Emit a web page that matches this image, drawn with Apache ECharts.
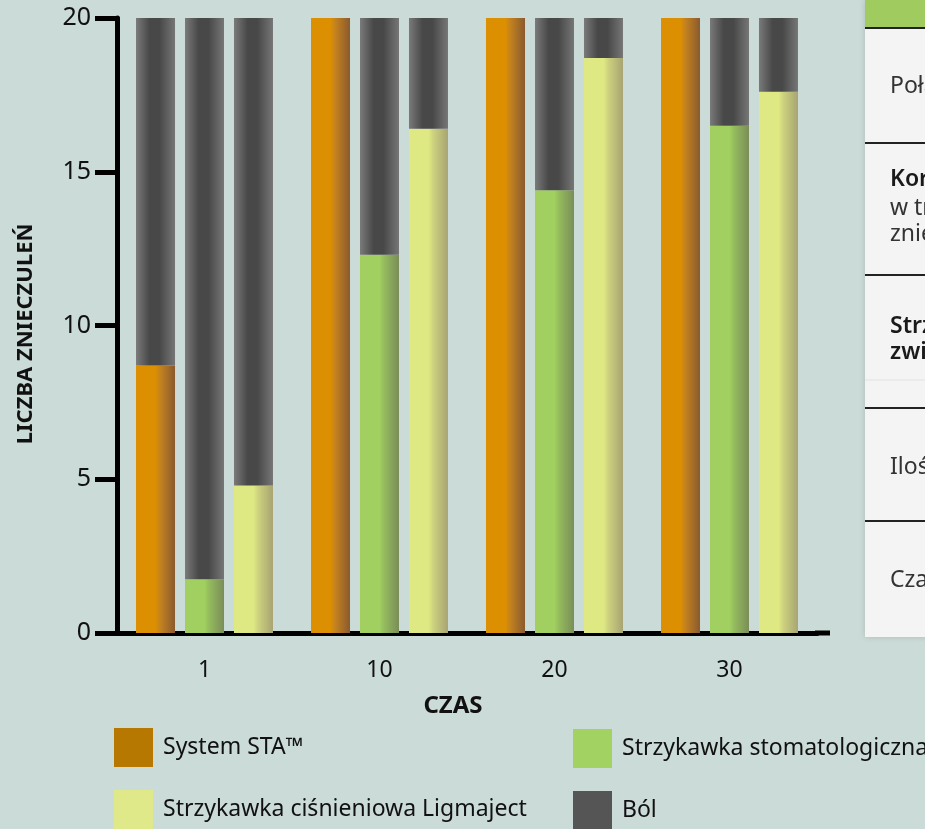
<!DOCTYPE html>
<html>
<head>
<meta charset="utf-8">
<script src="https://cdn.jsdelivr.net/npm/echarts@6/dist/echarts.min.js"></script>
<style>
    html, body { margin: 0; padding: 0; background: #cbdbd7; }
    #chart { width: 925px; height: 829px; }
</style>
</head>
<body>
<div id="chart"></div>
<script>
const czas = ['1', '10', '20', '30'];
const yTicks = [0, 5, 10, 15, 20];

const systemSTA = [8.7, 20, 20, 20];
const stomatologiczna = [1.75, 12.3, 14.4, 16.5];
const ligmaject = [4.8, 16.4, 18.7, 17.6];
const total = 20;

const bolSTA = systemSTA.map((v) => +(total - v).toFixed(2));
const bolStom = stomatologiczna.map((v) => +(total - v).toFixed(2));
const bolLig = ligmaject.map((v) => +(total - v).toFixed(2));

const font = '"Noto Sans", "Open Sans", sans-serif';

function grad(stops) {
    return new echarts.graphic.LinearGradient(0, 0, 1, 0,
        stops.map((s) => ({ offset: s[0], color: s[1] })));
}

const orangeGrad = grad([[0, '#dc8f00'], [0.5, '#dc8f00'], [0.62, '#c4821f'], [1, '#8a5a2f']]);
const greenGrad = grad([[0, '#a1d061'], [0.5, '#a1d061'], [0.62, '#94bb5d'], [1, '#7a8d58']]);
const yellowGrad = grad([[0, '#dfe983'], [0.5, '#dfe983'], [0.62, '#cdd27e'], [1, '#a8a472']]);
const grayGrad = grad([[0, '#7a7a7a'], [0.35, '#484848'], [0.6, '#484848'], [1, '#767676']]);

function barSeries(name, data, stack, color) {
    return {
        name: name,
        type: 'bar',
        stack: stack,
        data: data,
        barWidth: 39,
        barGap: '25.6%',
        itemStyle: { color: color },
    };
}

function legendBox(left, top, items) {
    return {
        left: left, top: top, height: 140, orient: 'vertical',
        itemWidth: 39, itemHeight: 39, itemGap: 23,
        icon: 'rect',
        textStyle: { fontSize: 23, color: '#111', fontFamily: font, padding: [0, 0, 0, 5] },
        data: items,
    };
}

function panelText(y, text, bold) {
    return {
        type: 'text', x: 890, y: y,
        style: {
            text: text,
            font: (bold ? '600 ' : '') + '23px ' + font,
            fill: bold ? '#1a1a1a' : '#333',
            verticalAlign: 'middle',
        },
    };
}

function panelLine(y, color, w) {
    return { type: 'line', shape: { x1: 865, y1: y, x2: 925, y2: y }, style: { stroke: color, lineWidth: w } };
}

const chart = echarts.init(document.getElementById('chart'));

const option = {
    backgroundColor: '#cbdbd7',
    animation: false,
    textStyle: { fontFamily: font },
    grid: { left: 117, top: 18, width: 700, bottom: 196, containLabel: false },
    legend: [
        legendBox(109, 723, [
            { name: 'System STA™', itemStyle: { color: '#b67800' } },
            { name: 'Strzykawka ciśnieniowa Ligmaject', itemStyle: { color: '#e0e98a' } },
        ]),
        legendBox(568, 724, [
            { name: 'Strzykawka stomatologiczna', itemStyle: { color: '#a2d262' } },
            { name: 'Ból', itemStyle: { color: '#555555' } },
        ]),
    ],
    xAxis: {
        type: 'category',
        data: czas,
        name: 'CZAS',
        nameLocation: 'middle',
        nameGap: 61,
        nameTextStyle: { fontSize: 24, fontWeight: 'bold', color: '#111', padding: [0, 28, 0, 0] },
        axisLine: { lineStyle: { color: '#000', width: 5 } },
        axisTick: { alignWithLabel: true, length: 23, lineStyle: { color: '#000', width: 5 } },
        axisLabel: { fontSize: 23, color: '#111', margin: 26 },
    },
    yAxis: {
        type: 'value',
        min: 0,
        max: 20,
        interval: 5,
        name: 'LICZBA ZNIECZULEŃ',
        nameLocation: 'middle',
        nameRotate: 90,
        nameGap: 80,
        nameTextStyle: { fontSize: 22, fontWeight: 'bold', color: '#111', padding: [0, 17, 0, 0] },
        splitLine: { show: false },
        axisLine: { show: true, lineStyle: { color: '#000', width: 5 } },
        axisTick: { show: true, length: 22, lineStyle: { color: '#000', width: 5 } },
        axisLabel: { fontSize: 25, color: '#111', margin: 26, formatter: (v) => yTicks.includes(v) ? String(v) : '' },
    },
    series: [
        barSeries('System STA™', systemSTA, 'sta', orangeGrad),
        barSeries('Ból', bolSTA, 'sta', grayGrad),
        barSeries('Strzykawka stomatologiczna', stomatologiczna, 'stom', greenGrad),
        barSeries('Ból', bolStom, 'stom', grayGrad),
        barSeries('Strzykawka ciśnieniowa Ligmaject', ligmaject, 'lig', yellowGrad),
        barSeries('Ból', bolLig, 'lig', grayGrad),
    ],
    graphic: [
        // x axis runs a little past the last category
        { type: 'line', shape: { x1: 815, y1: 633, x2: 830, y2: 633 }, style: { stroke: '#000', lineWidth: 5 } },
        // side table, cut off by the right edge
        { type: 'rect', shape: { x: 865, y: 0, width: 80, height: 637 }, style: { fill: '#f4f4f4', shadowBlur: 6, shadowColor: 'rgba(0,0,0,0.15)' } },
        { type: 'rect', shape: { x: 865, y: 0, width: 80, height: 27 }, style: { fill: '#9fcb5f' } },
        panelLine(28, '#222', 2),
        panelLine(143, '#222', 2),
        panelLine(275, '#222', 2),
        panelLine(380, '#e2e2e2', 1),
        panelLine(408, '#222', 2),
        panelLine(521, '#222', 2),
        panelText(86, 'Połączenie', false),
        panelText(179, 'Korzyści', true),
        panelText(208, 'w trakcie', false),
        panelText(234, 'znieczulenia', false),
        panelText(326, 'Strzykawka', true),
        panelText(352, 'zwiększa', true),
        panelText(467, 'Ilość', false),
        panelText(580, 'Czas', false),
    ],
};

chart.setOption(option);
</script>
</body>
</html>
